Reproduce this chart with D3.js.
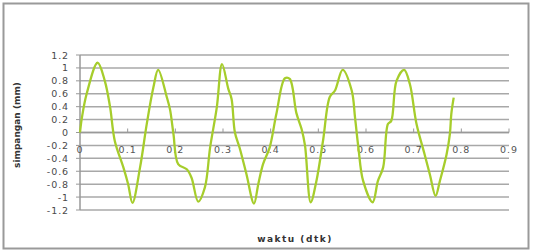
<!DOCTYPE html>
<html><head><meta charset="utf-8">
<script src="https://cdn.jsdelivr.net/npm/d3@7"></script>
<style>body{margin:0;background:#fff}svg{display:block}</style>
</head><body>
<svg id="c" width="533" height="251"></svg>
<script>
const tVals = [0,0.004,0.014,0.037,0.052,0.063,0.073,0.091,0.101,0.110,0.126,0.140,0.154,0.164,0.182,0.189,0.196,0.206,0.224,0.234,0.248,0.262,0.273,0.287,0.298,0.311,0.318,0.325,0.335,0.349,0.365,0.374,0.384,0.398,0.412,0.430,0.440,0.454,0.465,0.472,0.484,0.496,0.510,0.524,0.535,0.551,0.570,0.577,0.584,0.594,0.614,0.625,0.636,0.646,0.653,0.664,0.680,0.692,0.706,0.723,0.734,0.746,0.755,0.769,0.776,0.779,0.784];
const yVals = [0,0.23,0.6,1.08,0.8,0.4,-0.13,-0.54,-0.8,-1.09,-0.54,0.13,0.7,0.97,0.55,0.35,-0.02,-0.49,-0.57,-0.70,-1.07,-0.85,-0.23,0.39,1.06,0.68,0.52,0.0,-0.24,-0.64,-1.1,-0.8,-0.49,-0.23,0.29,0.84,0.83,0.3,0.05,-0.2,-1.08,-0.75,-0.12,0.55,0.65,0.97,0.65,0.23,-0.23,-0.75,-1.08,-0.75,-0.54,0.13,0.18,0.80,0.97,0.75,0.13,-0.34,-0.65,-0.98,-0.75,-0.34,-0.02,0.29,0.54];
const xTicks = [0,0.1,0.2,0.3,0.4,0.5,0.6,0.7,0.8,0.9];
const yTicks = [-1.2,-1,-0.8,-0.6,-0.4,-0.2,0,0.2,0.4,0.6,0.8,1,1.2];
const xTitle = "waktu (dtk)";
const yTitle = "simpangan (mm)";

const svg = d3.select("#c");
svg.append("rect").attr("x",3.5).attr("y",3.5).attr("width",525).attr("height",245)
  .attr("fill","#fff").attr("stroke","#9a9a9a").attr("stroke-width",2);

const x = d3.scaleLinear().domain([0,0.9]).range([80,509]);
const y = d3.scaleLinear().domain([-1.2,1.2]).range([210,55]);
const fmt = d => String(+d.toFixed(1));

const g = svg.append("g");
g.selectAll("line.grid").data(yTicks).enter().append("line")
  .attr("x1",x(0)).attr("x2",x(0.9)).attr("y1",d=>y(d)).attr("y2",d=>y(d))
  .attr("stroke","#a8a8a8").attr("stroke-width",1.5);
g.append("line").attr("x1",x(0)).attr("x2",x(0)).attr("y1",y(1.2)).attr("y2",y(-1.2))
  .attr("stroke","#999").attr("stroke-width",1.5);
g.selectAll("line.yt").data(yTicks).enter().append("line")
  .attr("x1",x(0)-4).attr("x2",x(0)).attr("y1",d=>y(d)).attr("y2",d=>y(d))
  .attr("stroke","#999").attr("stroke-width",1);
g.selectAll("text.yl").data(yTicks).enter().append("text")
  .attr("x",69).attr("y",d=>y(d)+3.5).attr("text-anchor","end")
  .attr("font-family","DejaVu Sans, Verdana").attr("font-size",9.5).attr("letter-spacing",0.9).attr("fill","#4a4a4a")
  .text(fmt);
g.append("line").attr("x1",x(0)).attr("x2",x(0.9)).attr("y1",y(0)).attr("y2",y(0))
  .attr("stroke","#999").attr("stroke-width",1.5);
g.selectAll("line.xt").data(xTicks).enter().append("line")
  .attr("x1",d=>x(d)).attr("x2",d=>x(d)).attr("y1",y(0)-4).attr("y2",y(0))
  .attr("stroke","#999").attr("stroke-width",1);
g.selectAll("text.xl").data(xTicks).enter().append("text")
  .attr("x",d=>x(d)).attr("y",y(0)+20).attr("text-anchor","middle")
  .attr("font-family","DejaVu Sans, Verdana").attr("font-size",9.5).attr("letter-spacing",1).attr("fill","#555")
  .text(fmt);

const data = tVals.map((t,i)=>[t,yVals[i]]);
g.append("path").datum(data)
  .attr("d", d3.line().x(d=>x(d[0])).y(d=>y(d[1])).curve(d3.curveCatmullRom.alpha(0.5)))
  .attr("fill","none").attr("stroke","#a6cd2c").attr("stroke-width",2.3);

svg.append("text").attr("transform","translate(20,125) rotate(-90)")
  .attr("text-anchor","middle").attr("font-family","DejaVu Sans, Verdana").attr("font-weight","bold")
  .attr("font-size",9).attr("fill","#333").text(yTitle);
svg.append("text").attr("x",295).attr("y",242).attr("text-anchor","middle")
  .attr("font-family","DejaVu Sans, Verdana").attr("font-weight","bold").attr("letter-spacing",1.5)
  .attr("font-size",9).attr("fill","#333").text(xTitle);
</script>
</body></html>
